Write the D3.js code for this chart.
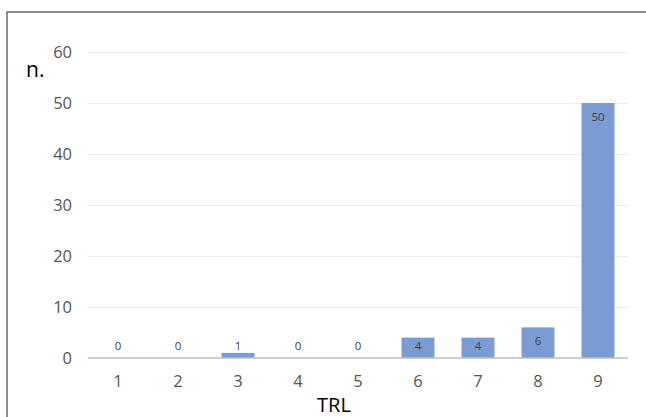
<!DOCTYPE html>
<html><head><meta charset="utf-8">
<script src="https://cdn.jsdelivr.net/npm/d3@7"></script>
<style>body{margin:0;background:#fff}svg{display:block}</style>
</head><body>
<svg id="c" width="646" height="417"></svg>
<script>
const categories = ["1","2","3","4","5","6","7","8","9"];
const values = [0,0,1,0,0,4,4,6,50];
const yTicks = [0,10,20,30,40,50,60];
const yLabel = "n.";
const xLabel = "TRL";

const svg = d3.select("#c");
const font = "'Open Sans', sans-serif";
const x = d3.scaleBand().domain(categories).range([88, 628]).paddingInner(0.45).paddingOuter(0.225);
const y = d3.scaleLinear().domain([0, 60]).range([358, 52]);

// frame
svg.append("rect").attr("x", 7).attr("y", 12).attr("width", 700).attr("height", 500)
  .attr("fill", "none").attr("stroke", "#6b6b6b").attr("stroke-width", 1.5);

// gridlines
svg.append("g").selectAll("line").data(yTicks.filter(t => t > 0)).join("line")
  .attr("x1", 88).attr("x2", 628)
  .attr("y1", d => Math.round(y(d)) + 0.5).attr("y2", d => Math.round(y(d)) + 0.5)
  .attr("stroke", "#ececec").attr("stroke-width", 1);

// bars
svg.append("g").selectAll("rect").data(values).join("rect")
  .attr("x", (d, i) => x(categories[i])).attr("width", x.bandwidth())
  .attr("y", d => y(d)).attr("height", d => y(0) - y(d))
  .attr("fill", "#7b9bd3");

// x axis line
svg.append("line").attr("x1", 88).attr("x2", 628).attr("y1", y(0)).attr("y2", y(0))
  .attr("stroke", "#bfbfbf").attr("stroke-width", 1.3);

// y axis
const yAxis = d3.axisLeft(y).tickValues(yTicks).tickSize(0).tickPadding(0);
const gy = svg.append("g").attr("transform", "translate(72,0)").call(yAxis);
gy.select(".domain").remove();
gy.selectAll("text").attr("font-family", font).attr("font-size", 16.5).attr("fill", "#555");

// x axis
const xAxis = d3.axisBottom(x).tickSize(0).tickPadding(0);
const gx = svg.append("g").attr("transform", "translate(0,375)").call(xAxis);
gx.select(".domain").remove();
gx.selectAll("text").attr("font-family", font).attr("font-size", 16.5).attr("fill", "#555")
  .attr("dy", "0.71em");

// data labels
svg.append("g").selectAll("text").data(values).join("text")
  .attr("x", (d, i) => x(categories[i]) + x.bandwidth() / 2)
  .attr("y", d => Math.min(y(d) + 14, y(0) - 12))
  .attr("dy", "0.35em").attr("text-anchor", "middle")
  .attr("font-family", font).attr("font-size", 11.5).attr("fill", "#404040")
  .text(d => d);

// axis titles
svg.append("text").attr("x", 26).attr("y", 77).attr("font-family", font)
  .attr("font-size", 21).attr("fill", "#000").text(yLabel);
svg.append("text").attr("x", 334).attr("y", 412).attr("text-anchor", "middle").attr("font-family", font)
  .attr("font-size", 20).attr("fill", "#000").text(xLabel);
</script>
</body></html>
